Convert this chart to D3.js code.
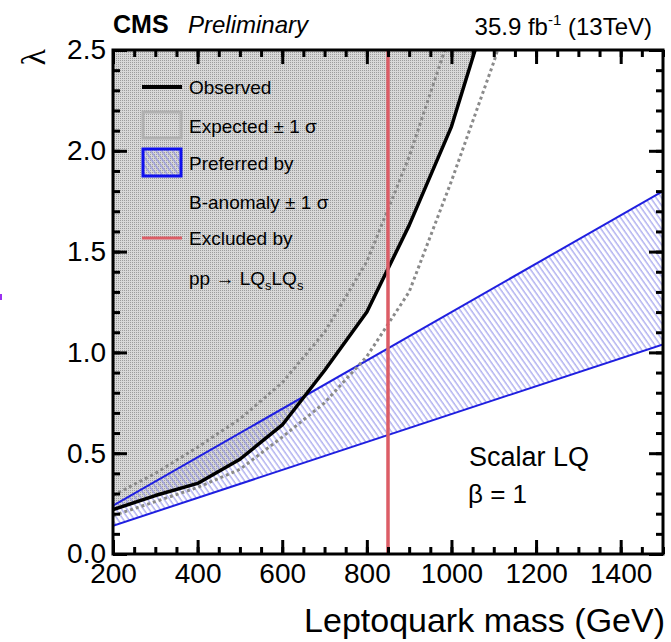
<!DOCTYPE html>
<html>
<head>
<meta charset="utf-8">
<style>
  body { margin: 0; background: #fff; }
  text { font-family: "Liberation Sans", Arial, sans-serif; fill: #000; }
</style>
</head>
<body>
<div id="chart"></div>
<script src="https://d3js.org/d3.v7.min.js"></script>
<script>
// observed limit
var obsMass = [200, 300, 400, 500, 600, 700, 800, 900, 1000, 1100];
var obsLambda = [0.22, 0.29, 0.35, 0.47, 0.64, 0.91, 1.20, 1.63, 2.12, 2.80];
// expected +-1 sigma
var expHiMass = [200, 300, 400, 500, 600, 700, 800, 900, 1000];
var expHiLambda = [0.29, 0.40, 0.53, 0.67, 0.85, 1.10, 1.45, 1.97, 2.60];
var expLoMass = [200, 300, 400, 500, 600, 700, 800, 900, 1000, 1100, 1200];
var expLoLambda = [0.19, 0.26, 0.33, 0.42, 0.58, 0.75, 0.98, 1.30, 1.85, 2.44, 3.10];
// B-anomaly band
var bandMass = [200, 1500];
var bandHi = [0.24, 1.80];
var bandLo = [0.14, 1.04];
// pair production exclusion
var excludedMass = 850;

var xTicks = [200, 400, 600, 800, 1000, 1200, 1400];
var yTicks = [0, 0.5, 1.0, 1.5, 2.0, 2.5];

var width = 671, height = 642;
var pL = 113, pR = 663, pT = 50, pB = 554;

var svg = d3.select("#chart").append("svg")
    .attr("width", width).attr("height", height);

var defs = svg.append("defs");
var dots = defs.append("pattern").attr("id", "dots")
    .attr("patternUnits", "userSpaceOnUse").attr("width", 2).attr("height", 2);
dots.append("rect").attr("width", 2).attr("height", 2).attr("fill", "#d8d8d8");
dots.append("rect").attr("width", 1).attr("height", 1).attr("fill", "#9c9c9c");

var hatch = defs.append("pattern").attr("id", "hatch")
    .attr("patternUnits", "userSpaceOnUse").attr("width", 4.5).attr("height", 10)
    .attr("patternTransform", "rotate(-35)");
hatch.append("line").attr("x1", 1).attr("x2", 1).attr("y1", 0).attr("y2", 10)
    .attr("stroke", "#8c8ce8").attr("stroke-width", 1);

defs.append("clipPath").attr("id", "plot")
  .append("rect").attr("x", pL).attr("y", pT)
    .attr("width", pR - pL).attr("height", pB - pT);

var x = d3.scaleLinear().domain([200, 1500]).range([pL, pR]);
var y = d3.scaleLinear().domain([0, 2.5]).range([pB, pT]);

function pts(ms, ls) { return ms.map(function(m, i) { return [m, ls[i]]; }); }
var line = d3.line().x(function(d) { return x(d[0]); }).y(function(d) { return y(d[1]); });

var plot = svg.append("g").attr("clip-path", "url(#plot)");

// excluded region (above observed)
var excl = pts(obsMass, obsLambda).concat([[obsMass[obsMass.length - 1], 3.5], [200, 3.5]]);
plot.append("path").attr("d", line(excl) + "Z").attr("fill", "url(#dots)");

// band
var band = pts(bandMass, bandHi).concat(pts(bandMass, bandLo).reverse());
plot.append("path").attr("d", line(band) + "Z").attr("fill", "url(#hatch)");
[bandHi, bandLo].forEach(function(b) {
  plot.append("path").attr("d", line(pts(bandMass, b)))
      .attr("fill", "none").attr("stroke", "#1f1fe0").attr("stroke-width", 2);
});

// expected
[[expHiMass, expHiLambda], [expLoMass, expLoLambda]].forEach(function(e) {
  plot.append("path").attr("d", line(pts(e[0], e[1])))
      .attr("fill", "none").attr("stroke", "#8a8a8a").attr("stroke-width", 3)
      .attr("stroke-dasharray", "3,3");
});

// observed
plot.append("path").attr("d", line(pts(obsMass, obsLambda)))
    .attr("fill", "none").attr("stroke", "#000").attr("stroke-width", 3.5)
    .attr("stroke-linejoin", "round");

// red exclusion line
plot.append("line").attr("x1", x(excludedMass)).attr("x2", x(excludedMass))
    .attr("y1", y(0)).attr("y2", y(2.5))
    .attr("stroke", "#dc5d66").attr("stroke-width", 3.5);

// axes
function styleAxis(g) {
  g.select(".domain").remove();
  g.selectAll(".tick line").attr("stroke", "#000").attr("stroke-width", 3);
  g.selectAll(".tick text").style("font-size", "28px")
      .style("font-family", "'Liberation Sans', Arial, sans-serif");
}
var xMinor = d3.range(200, 1501, 50);
var yMinor = d3.range(0, 2.501, 0.1);

svg.append("g").attr("transform", "translate(0," + pB + ")")
    .call(d3.axisBottom(x).tickValues(xMinor).tickSize(-7).tickFormat(""))
    .call(styleAxis);
svg.append("g").attr("transform", "translate(0," + pB + ")")
    .call(d3.axisBottom(x).tickValues(xTicks).tickSize(-14).tickPadding(9).tickFormat(d3.format("d")))
    .call(styleAxis);
svg.append("g").attr("transform", "translate(0," + pT + ")")
    .call(d3.axisTop(x).tickValues(xMinor).tickSize(-7).tickFormat(""))
    .call(styleAxis);
svg.append("g").attr("transform", "translate(0," + pT + ")")
    .call(d3.axisTop(x).tickValues(xTicks).tickSize(-14).tickFormat(""))
    .call(styleAxis);
svg.append("g").attr("transform", "translate(" + pL + ",0)")
    .call(d3.axisLeft(y).tickValues(yMinor).tickSize(-7).tickFormat(""))
    .call(styleAxis);
svg.append("g").attr("transform", "translate(" + pL + ",0)")
    .call(d3.axisLeft(y).tickValues(yTicks).tickSize(-14).tickPadding(7).tickFormat(d3.format(".1f")))
    .call(styleAxis);
svg.append("g").attr("transform", "translate(" + pR + ",0)")
    .call(d3.axisRight(y).tickValues(yMinor).tickSize(-7).tickFormat(""))
    .call(styleAxis);
svg.append("g").attr("transform", "translate(" + pR + ",0)")
    .call(d3.axisRight(y).tickValues(yTicks).tickSize(-14).tickFormat(""))
    .call(styleAxis);

// frame
svg.append("rect").attr("x", pL).attr("y", pT)
    .attr("width", pR - pL).attr("height", pB - pT)
    .attr("fill", "none").attr("stroke", "#000").attr("stroke-width", 3);

// titles
svg.append("text").attr("x", 113).attr("y", 33)
    .style("font-size", "25px").style("font-weight", "bold").text("CMS");
svg.append("text").attr("x", 188).attr("y", 33)
    .style("font-size", "24px").style("font-style", "italic").text("Preliminary");
var lumi = svg.append("text").attr("x", 652).attr("y", 35)
    .attr("text-anchor", "end").style("font-size", "24px");
lumi.append("tspan").text("35.9 fb");
lumi.append("tspan").attr("dy", -10).style("font-size", "15px").text("-1");
lumi.append("tspan").attr("dy", 10).text(" (13TeV)");

svg.append("text").attr("transform", "translate(45,49) rotate(-90)")
    .attr("text-anchor", "end")
    .style("font-family", "'Liberation Serif', serif").style("font-size", "34px").text("λ");
svg.append("text").attr("x", 665).attr("y", 632).attr("text-anchor", "end")
    .style("font-size", "34px").text("Leptoquark mass (GeV)");

svg.append("text").attr("x", 469).attr("y", 466).style("font-size", "27px").text("Scalar LQ");
svg.append("text").attr("x", 468).attr("y", 503).style("font-size", "26px").text("β = 1");

// small mark at the left edge of the original picture
svg.append("rect").attr("x", 0).attr("y", 294).attr("width", 2).attr("height", 6)
    .attr("fill", "#9a30f0");

// legend
var lx = 142, lw = 40, tx = 189;
var leg = svg.append("g");
leg.append("line").attr("x1", lx).attr("x2", lx + lw).attr("y1", 87).attr("y2", 87)
    .attr("stroke", "#000").attr("stroke-width", 4);
leg.append("rect").attr("x", lx + 1).attr("y", 112).attr("width", lw - 2).attr("height", 26)
    .attr("fill", "none").attr("stroke", "#b0b0b0").attr("stroke-width", 3);
leg.append("rect").attr("x", lx + 1).attr("y", 149).attr("width", lw - 2).attr("height", 27)
    .attr("fill", "url(#hatch)").attr("stroke", "#1010ee").attr("stroke-width", 3);
leg.append("line").attr("x1", lx).attr("x2", lx + lw).attr("y1", 238).attr("y2", 238)
    .attr("stroke", "#dc5d66").attr("stroke-width", 3);

var legTexts = [["Observed", 87], ["Expected ± 1 σ", 126], ["Preferred by", 163],
                ["B-anomaly ± 1 σ", 202], ["Excluded by", 238]];
legTexts.forEach(function(t) {
  leg.append("text").attr("x", tx).attr("y", t[1] + 7).style("font-size", "19px").text(t[0]);
});
var pp = leg.append("text").attr("x", tx).attr("y", 278 + 7).style("font-size", "19px");
pp.append("tspan").text("pp → LQ");
pp.append("tspan").attr("dy", 5).style("font-size", "13px").text("s");
pp.append("tspan").attr("dy", -5).text("LQ");
pp.append("tspan").attr("dy", 5).style("font-size", "13px").text("s");
</script>
</body>
</html>
